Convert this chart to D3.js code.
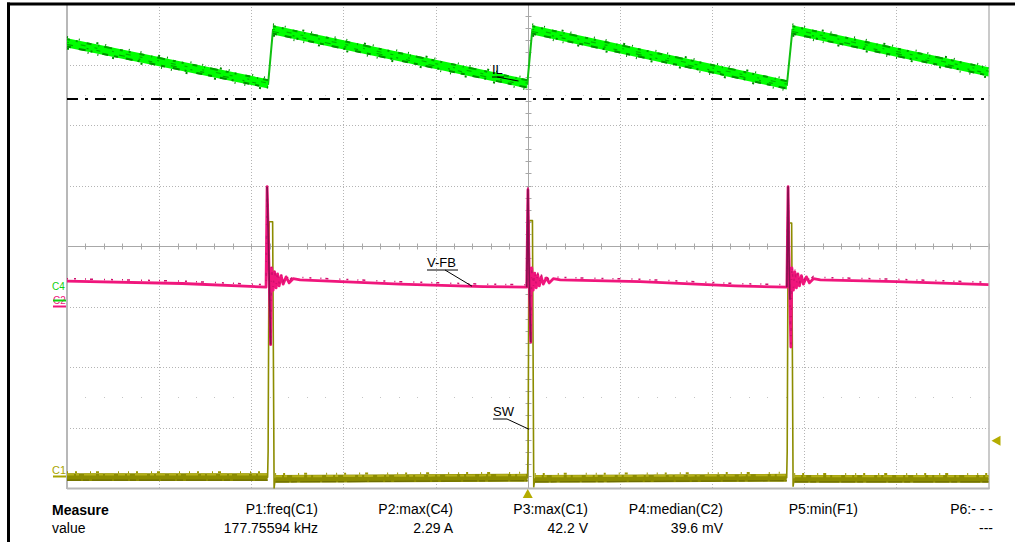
<!DOCTYPE html>
<html>
<head>
<meta charset="utf-8">
<script src="https://cdn.jsdelivr.net/npm/d3@7/dist/d3.min.js"></script>
<style>
  html, body { margin: 0; padding: 0; background: #ffffff; }
  svg { display: block; font-family: "Liberation Sans", Arial, sans-serif; }
</style>
</head>
<body>
<svg id="scope" width="1015" height="542"></svg>
<script>
// ---- Timebase: microseconds, 2 us/div, trigger at screen centre ----
const timeRange = [-10, 10];
const timeGridStep = 2;

// ---- C4: inductor current IL (A), 0.5 A/div ----
const ilTime = [-10, -5.635, -5.53, -0.01, 0.098, 5.624, 5.744, 10];
const ilAmps = [2.124, 1.785, 2.231, 1.785, 2.231, 1.777, 2.231, 1.884];
const ilRipple = 0.038;          // half-width of the switching-noise band (A)
const ilMarkerLevel = 1.66;      // dash-dot reference level (A)

// ---- C2: feedback voltage V-FB (mV), 100 mV/div ----
const vfbTrace = [
  [-10, 41], [-7.5, 37], [-5.68, 31],
  [-5.657, 197], [-5.624, 93], [-5.602, 10], [-5.581, -64], [-5.559, 63], [-5.526, 26],
  [-5.494, 56], [-5.461, 30], [-5.429, 53], [-5.396, 33], [-5.353, 50], [-5.309, 36],
  [-5.244, 48], [-5.179, 38], [-5.092, 45], [-4.94, 43],
  [-2.77, 36], [-0.97, 32], [-0.022, 31],
  [0.004, 192], [0.022, 93], [0.043, 10], [0.065, -60], [0.087, 63], [0.119, 26],
  [0.152, 54], [0.185, 30], [0.217, 51], [0.25, 33], [0.293, 48], [0.337, 36],
  [0.402, 46], [0.467, 38], [0.554, 45], [0.706, 43],
  [2.44, 40], [4.5, 33], [5.624, 31],
  [5.65, 197], [5.668, 93], [5.69, 10], [5.711, -68], [5.733, 63], [5.766, 26],
  [5.798, 56], [5.831, 30], [5.863, 53], [5.896, 33], [5.939, 50], [5.983, 36],
  [6.048, 48], [6.113, 38], [6.2, 45], [6.352, 43],
  [8, 40], [10, 35]
];

// ---- C1: switch node SW (V), 10 V/div ----
const swTrace = [
  [-10, -0.2], [-5.646, -0.2], [-5.635, 4.0], [-5.613, 42.0], [-5.537, 42.0], [-5.505, -2.0], [-5.483, -0.5],
  [-0.004, -0.3], [0.007, 4.0], [0.028, 42.2], [0.102, 42.2], [0.13, -1.8], [0.152, -0.5],
  [5.62, -0.3], [5.631, 4.0], [5.652, 41.8], [5.728, 41.8], [5.759, -1.7], [5.783, -0.5],
  [10, -0.5]
];
const swNoise = 0.65;            // half-width of the baseline noise band (V)
const swTriggerLevel = 5.8;      // trigger level (V)

// ---- Measurement readout ----
const measureNames = ["P1:freq(C1)", "P2:max(C4)", "P3:max(C1)", "P4:median(C2)", "P5:min(F1)", "P6:- - -"];
const measureValues = ["177.75594 kHz", "2.29 A", "42.2 V", "39.6 mV", "", "---"];

// ---- Channel vertical settings (per-division scale, ground offset in divisions) ----
const channels = {
  C1: { perDiv: 10, offsetDiv: -3.8, color: "#8c8c00", label: "#a8a400" },
  C4: { perDiv: 0.5, offsetDiv: -0.89, color: "#00ff00", label: "#10d010" },
  C2: { perDiv: 100, offsetDiv: -0.99, color: "#f0167c", label: "#f0167c" }
};

// ===================== drawing =====================
const svg = d3.select("#scope");
const plot = { left: 67, right: 988.5, top: 4, bottom: 488 };

const x = d3.scaleLinear().domain(timeRange).range([plot.left, plot.right]);
const divY = d3.scaleLinear().domain([-4, 4]).range([plot.bottom, plot.top]);
function channelScale(ch) {
  return d3.scaleLinear()
    .domain([(-4 - ch.offsetDiv) * ch.perDiv, (4 - ch.offsetDiv) * ch.perDiv])
    .range([plot.bottom, plot.top]);
}
const yC1 = channelScale(channels.C1);
const yC4 = channelScale(channels.C4);
const yC2 = channelScale(channels.C2);

// ---- graticule ----
const grid = svg.append("g");
const timeTicks = d3.range(timeRange[0], timeRange[1] + 0.001, timeGridStep);
grid.selectAll("line.vg").data(timeTicks.filter(t => t !== 0 && t !== timeRange[0] && t !== timeRange[1]))
  .join("line").attr("class", "vg")
  .attr("x1", d => Math.round(x(d)) + 0.5).attr("x2", d => Math.round(x(d)) + 0.5)
  .attr("y1", plot.top).attr("y2", plot.bottom)
  .attr("stroke", "#b4b4b4").attr("stroke-width", 1).attr("stroke-dasharray", "1 2");
grid.selectAll("line.hg").data(d3.range(-3, 4).filter(d => d !== 0))
  .join("line").attr("class", "hg")
  .attr("x1", plot.left).attr("x2", plot.right)
  .attr("y1", d => Math.round(divY(d)) + 0.5).attr("y2", d => Math.round(divY(d)) + 0.5)
  .attr("stroke", "#b4b4b4").attr("stroke-width", 1).attr("stroke-dasharray", "1 2");

// faint sub-division dot rows
[-2.5, 2.5].forEach(r => {
  grid.selectAll(null).data(d3.range(timeRange[0], timeRange[1] + 0.001, timeGridStep / 5))
    .join("rect")
    .attr("x", d => Math.round(x(d))).attr("y", Math.round(divY(r)))
    .attr("width", 1).attr("height", 1).attr("fill", "#c4c4c4");
});

// centre axes with minor ticks
const cx = Math.round(x(0)) + 0.5, cy = Math.round(divY(0)) + 0.5;
grid.append("line").attr("x1", plot.left).attr("x2", plot.right).attr("y1", cy).attr("y2", cy)
  .attr("stroke", "#a8a8a8");
grid.append("line").attr("x1", cx).attr("x2", cx).attr("y1", plot.top).attr("y2", plot.bottom)
  .attr("stroke", "#a8a8a8");
grid.selectAll("line.mt").data(d3.range(timeRange[0], timeRange[1] + 0.001, timeGridStep / 5))
  .join("line").attr("class", "mt")
  .attr("x1", d => Math.round(x(d)) + 0.5).attr("x2", d => Math.round(x(d)) + 0.5)
  .attr("y1", cy - 3).attr("y2", cy + 3).attr("stroke", "#a8a8a8");
grid.selectAll("line.mv").data(d3.range(-4, 4.001, 0.2))
  .join("line").attr("class", "mv")
  .attr("x1", cx - 3).attr("x2", cx + 3)
  .attr("y1", d => Math.round(divY(d)) + 0.5).attr("y2", d => Math.round(divY(d)) + 0.5)
  .attr("stroke", "#a8a8a8");

// screen edges
grid.append("line").attr("x1", plot.left).attr("x2", plot.left).attr("y1", plot.top).attr("y2", plot.bottom + 1)
  .attr("stroke", "#b8b8b8").attr("stroke-width", 2);
grid.append("line").attr("x1", plot.right + 0.5).attr("x2", plot.right + 0.5).attr("y1", plot.top).attr("y2", plot.bottom + 1)
  .attr("stroke", "#b8b8b8").attr("stroke-width", 1.5);
grid.append("line").attr("x1", plot.left).attr("x2", plot.right + 1).attr("y1", plot.bottom + 0.5).attr("y2", plot.bottom + 0.5)
  .attr("stroke", "#b8b8b8").attr("stroke-width", 2);

// dash-dot reference level on C4
svg.append("line")
  .attr("x1", plot.left).attr("x2", plot.right)
  .attr("y1", Math.round(yC4(ilMarkerLevel))).attr("y2", Math.round(yC4(ilMarkerLevel)))
  .attr("stroke", "#000").attr("stroke-width", 2).attr("stroke-dasharray", "11 7 3 7");

// ---- C1: SW trace ----
const swPts = swTrace.map(([t, v]) => ({ t, v }));
const swBaseline = d => Math.abs(d.v) < 1;
const gSW = svg.append("g");
gSW.append("path").datum(swPts)
  .attr("d", d3.area().defined(swBaseline).x(d => x(d.t)).y0(d => yC1(d.v - swNoise)).y1(d => yC1(d.v + swNoise)))
  .attr("fill", "#8c8c00");
gSW.append("path").datum(swPts)
  .attr("d", d3.line().defined(swBaseline).x(d => x(d.t)).y(d => yC1(d.v + swNoise * 0.65)))
  .attr("fill", "none").attr("stroke", "#b4b018").attr("stroke-width", 2)
  .attr("stroke-dasharray", "7 2 3 5 12 3 4 2 9 4");
gSW.append("path").datum(swPts)
  .attr("d", d3.line().defined(swBaseline).x(d => x(d.t)).y(d => yC1(d.v + swNoise * 1.25)))
  .attr("fill", "none").attr("stroke", "#9c9800").attr("stroke-width", 2)
  .attr("stroke-dasharray", "1 7 2 13 1 5 3 19 1 9");
gSW.append("path").datum(swPts)
  .attr("d", d3.line().defined(swBaseline).x(d => x(d.t)).y(d => yC1(d.v - swNoise * 0.75)))
  .attr("fill", "none").attr("stroke", "#6e6e00").attr("stroke-width", 1.2)
  .attr("stroke-dasharray", "14 2 6 3 20 2");
gSW.append("path").datum(swPts)
  .attr("d", d3.line().x(d => x(d.t)).y(d => yC1(d.v)))
  .attr("fill", "none").attr("stroke", "#8c8c00").attr("stroke-width", 1.6)
  .attr("stroke-linejoin", "round");

// ---- C2: V-FB trace ----
const vfbPts = vfbTrace.map(([t, v]) => ({ t, v }));
const edgeTimes = swPts.filter((d, i) => d.v > 20 && swPts[i - 1].v < 20).map(d => d.t);
const nearEdge = d => edgeTimes.some(e => d.t >= e - 0.06 && d.t <= e + 0.05);
const gFB = svg.append("g");
gFB.append("path").datum(vfbPts)
  .attr("d", d3.line().x(d => x(d.t)).y(d => yC2(d.v)))
  .attr("fill", "none").attr("stroke", channels.C2.color).attr("stroke-width", 2.8)
  .attr("stroke-linejoin", "round");
gFB.append("path").datum(vfbPts)
  .attr("d", d3.line().x(d => x(d.t)).y(d => yC2(d.v + 4)))
  .attr("fill", "none").attr("stroke", "#d0106e").attr("stroke-width", 1.5)
  .attr("stroke-dasharray", "1 6 2 9 1 4 3 11");
gFB.append("path").datum(vfbPts)
  .attr("d", d3.line().defined(nearEdge).x(d => x(d.t)).y(d => yC2(d.v)))
  .attr("fill", "none").attr("stroke", "#86104e").attr("stroke-width", 1.6)
  .attr("stroke-linejoin", "round");

// ---- C4: IL trace ----
const ilPts = ilTime.map((t, i) => ({ t, v: ilAmps[i] }));
const ramps = [];
for (let i = 0; i < ilPts.length - 1; i++) {
  if (ilPts[i + 1].v < ilPts[i].v) ramps.push([ilPts[i], ilPts[i + 1]]);
}
const gIL = svg.append("g");
gIL.append("path").datum(ilPts)
  .attr("d", d3.line().x(d => x(d.t)).y(d => yC4(d.v)))
  .attr("fill", "none").attr("stroke", "#10c010").attr("stroke-width", 2);
const bandArea = d3.area().x(d => x(d.t)).y0(d => yC4(d.v - ilRipple)).y1(d => yC4(d.v + ilRipple));
const offsetLine = k => d3.line().x(d => x(d.t)).y(d => yC4(d.v + k));
gIL.selectAll("path.band").data(ramps).join("path").attr("class", "band")
  .attr("d", bandArea).attr("fill", "#00ff00");
const speckles = [
  { k: ilRipple * 0.8, color: "#00a000", w: 2, dash: "3 6 2 9 5 7 1 5 8 8" },
  { k: -ilRipple * 0.8, color: "#009000", w: 2, dash: "4 8 7 5 2 10 6 6" },
  { k: ilRipple * 0.15, color: "#00b800", w: 1.2, dash: "2 12 5 9 3 15" },
  { k: -ilRipple * 0.35, color: "#00a800", w: 1.2, dash: "6 14 2 8 4 19" },
  { k: ilRipple * 1.25, color: "#008c00", w: 2, dash: "1 11 1 17 2 7 1 23" },
  { k: -ilRipple * 1.25, color: "#008c00", w: 2, dash: "2 19 1 9 1 14 2 27" }
];
speckles.forEach(s => {
  gIL.selectAll(null).data(ramps).join("path")
    .attr("d", offsetLine(s.k)).attr("fill", "none")
    .attr("stroke", s.color).attr("stroke-width", s.w).attr("stroke-dasharray", s.dash);
});

// ---- trace labels with leader lines ----
const ilAt = d3.scaleLinear().domain(ilTime).range(ilAmps);
const fbAt = d3.scaleLinear().domain(vfbTrace.map(d => d[0])).range(vfbTrace.map(d => d[1]));
function traceLabel(text, end, textX, textY, underlineEnd, kneeX) {
  const g = svg.append("g");
  g.append("text").attr("x", textX).attr("y", textY).attr("font-size", 13).attr("fill", "#000").text(text);
  g.append("path")
    .attr("d", `M${textX},${textY + 3}H${underlineEnd}M${kneeX},${textY + 3}L${end[0]},${end[1]}`)
    .attr("fill", "none").attr("stroke", "#000").attr("stroke-width", 1);
}
{
  const t = -0.2;
  traceLabel("IL", [x(t), yC4(ilAt(t)) - 1], 492, 74, 504, 497);
}
{
  const t = -1.21;
  traceLabel("V-FB", [x(t), yC2(fbAt(t))], 427, 267, 458, 445);
}
traceLabel("SW", [x(0.03), yC1(7.7)], 493, 416, 507, 507);

// ---- channel ground markers ----
function groundMarker(name, ch, dx, dy, size) {
  const y0 = Math.round(channelScale(ch)(0)) + 0.5;
  svg.append("text").attr("x", 52 + dx).attr("y", y0 - 3 + dy).attr("font-size", size)
    .attr("fill", ch.label).text(name);
  svg.append("line").attr("x1", 53).attr("x2", 66).attr("y1", y0).attr("y2", y0)
    .attr("stroke", ch.label).attr("stroke-width", 2);
}
groundMarker("C2", channels.C2, 1, 0, 10);
groundMarker("C4", channels.C4, 0, -8, 10);
groundMarker("C1", channels.C1, 0, 0, 11);

// trigger level and trigger position markers
const trigY = yC1(swTriggerLevel);
svg.append("path").attr("d", `M${plot.right + 3},${trigY}L${plot.right + 12},${trigY - 5}L${plot.right + 12},${trigY + 5}Z`)
  .attr("fill", "#b4ac00");
const trigX = x(0);
svg.append("path").attr("d", `M${trigX},${plot.bottom + 1}L${trigX - 5},${plot.bottom + 10}L${trigX + 5},${plot.bottom + 10}Z`)
  .attr("fill", "#b4ac00");

// ---- frame ----
svg.append("line").attr("x1", 7).attr("x2", 1015).attr("y1", 4).attr("y2", 4)
  .attr("stroke", "#000").attr("stroke-width", 3);
svg.append("line").attr("x1", 8.5).attr("x2", 8.5).attr("y1", 2.5).attr("y2", 542)
  .attr("stroke", "#000").attr("stroke-width", 3);

// ---- measurement readout ----
const readout = svg.append("g").attr("font-size", 14).attr("fill", "#000");
readout.append("text").attr("x", 52).attr("y", 515).attr("font-weight", "bold").text("Measure");
readout.append("text").attr("x", 52).attr("y", 533).text("value");
const colX = i => 318 + i * 135;
readout.selectAll("text.mn").data(measureNames).join("text").attr("class", "mn")
  .attr("x", (d, i) => colX(i)).attr("y", 514).attr("text-anchor", "end").text(d => d);
readout.selectAll("text.mv").data(measureValues).join("text").attr("class", "mv")
  .attr("x", (d, i) => colX(i)).attr("y", 533).attr("text-anchor", "end").text(d => d);
</script>
</body>
</html>
